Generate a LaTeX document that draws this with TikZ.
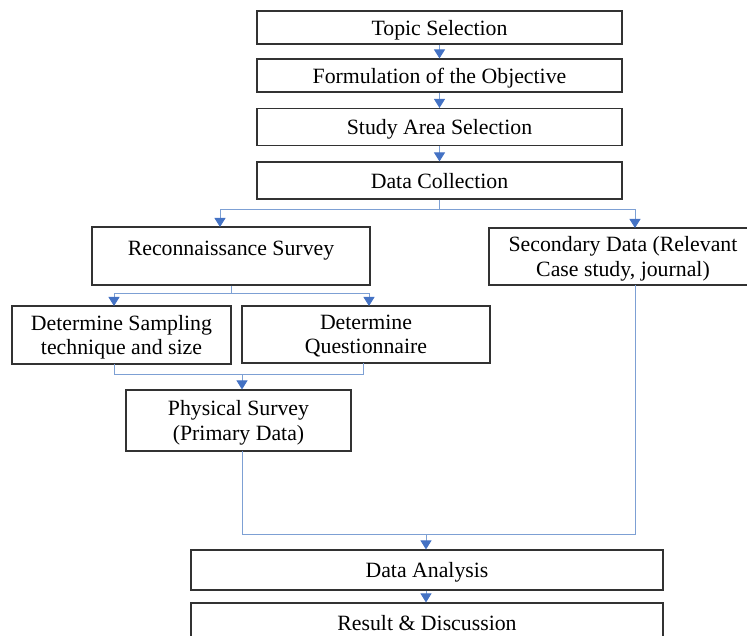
\documentclass[tikz,border=0pt]{standalone}
\usepackage{fontspec}
\setmainfont{Liberation Serif}
\usetikzlibrary{arrows.meta}
\definecolor{linkblue}{RGB}{125,160,212}
\definecolor{tipblue}{RGB}{68,114,196}
\definecolor{boxline}{RGB}{50,50,50}
\begin{document}
\begin{tikzpicture}[x=1pt,y=-1pt,
  box/.style={draw=boxline,line width=1.1pt,inner sep=0pt,align=center,text depth=0pt,
    font=\fontsize{21.8}{24.5}\selectfont},
  conn/.style={draw=linkblue,line width=0.9pt},
  arr/.style={conn,-{Triangle[width=11pt,length=9pt,color=tipblue]}}]
\useasboundingbox (0,0) rectangle (747,636);
% boxes
\node[box,minimum width=365pt,minimum height=33pt] (topic) at (439.5,27.5) {Topic Selection};
\node[box,minimum width=365pt,minimum height=33pt] (form) at (439.5,75.5) {Formulation of the Objective};
\node[box,minimum width=365pt,minimum height=37pt] (study) at (439.5,127) {Study Area Selection};
\node[box,minimum width=365pt,minimum height=37pt] (dc) at (439.5,180.5) {Data Collection};
\node[box,minimum width=278pt,minimum height=58pt] (recon) at (231,256) {Reconnaissance Survey\\[-10pt]\strut};
\node[box,minimum width=268pt,minimum height=57pt] (sec) at (623,256.5) {Secondary Data (Relevant\\Case study, journal)};
\node[box,minimum width=219pt,minimum height=58pt] (samp) at (121.5,335) {Determine Sampling\\technique and size};
\node[box,minimum width=248pt,minimum height=57pt] (quest) at (366,334.5) {Determine\\Questionnaire};
\node[box,minimum width=225pt,minimum height=61pt] (phys) at (238.5,420.5) {Physical Survey\\(Primary Data)};
\node[box,minimum width=472pt,minimum height=40pt] (ana) at (427,570) {Data Analysis};
\node[box,minimum width=472pt,minimum height=45pt] (res) at (427,625.5) {};
\node[font=\fontsize{21.8}{24.5}\selectfont,text depth=0pt] (restext) at (427,623) {Result \& Discussion};
% straight arrows
\draw[arr] (topic.south) -- (form.north);
\draw[arr] (form.south) -- (study.north);
\draw[arr] (study.south) -- (dc.north);
% split after data collection
\coordinate (j1) at (439.5,209);
\coordinate (reconin) at (220,227);
\coordinate (secin) at (635,228);
\draw[conn] (dc.south) -- (j1);
\draw[arr] (j1) -| (reconin);
\draw[arr] (j1) -| (secin);
% split after recon
\coordinate (j2) at (231,293);
\coordinate (sampin) at (114,306);
\coordinate (questin) at (369,306);
\draw[conn] (recon.south) -- (j2);
\draw[arr] (j2) -| (sampin);
\draw[arr] (j2) -| (questin);
% merge into physical survey
\coordinate (sampout) at (114,364);
\coordinate (questout) at (363,363);
\coordinate (j3) at (242,374);
\draw[conn] (sampout) |- (j3);
\draw[conn] (questout) |- (j3);
\draw[arr] (j3) -- (phys.north -| j3);
% merge into data analysis
\coordinate (physout) at (242,451);
\coordinate (secout) at (635,285);
\coordinate (j4) at (426,534);
\draw[conn] (physout) |- (j4);
\draw[conn] (secout) |- (j4);
\draw[arr] (j4) -- (ana.north -| j4);
\draw[arr] (ana.south -| j4) -- (res.north -| j4);
\end{tikzpicture}
\end{document}
